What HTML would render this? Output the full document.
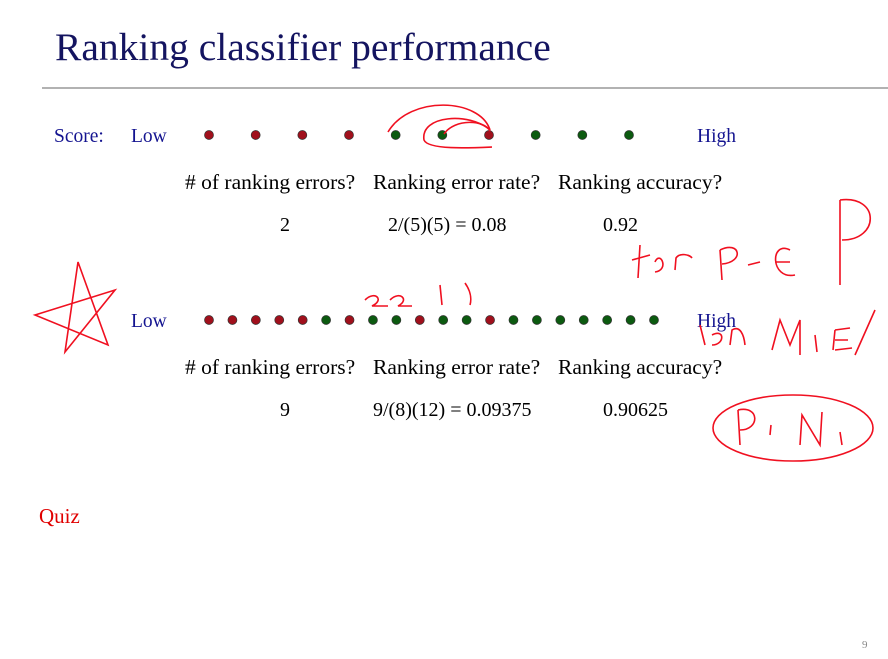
<!DOCTYPE html>
<html><head><meta charset="utf-8"><style>
body{margin:0;background:#fff;}
svg{display:block;}
text{font-family:"Liberation Serif",serif;}
</style></head><body>
<svg id="slide" width="888" height="659" viewBox="0 0 888 659" xmlns="http://www.w3.org/2000/svg">
<rect width="888" height="659" fill="#fff"/>
<text x="55" y="60" font-size="39.5" fill="#141460">Ranking classifier performance</text>
<line x1="42" y1="88" x2="888" y2="88" stroke="#999" stroke-width="1.5"/>
<text x="54" y="142" font-size="19.5" fill="#141490">Score:</text>
<text x="131" y="142" font-size="19.5" fill="#141490">Low</text>
<text x="697" y="142" font-size="19.5" fill="#141490">High</text>
<g font-size="21.5">
<text x="185" y="189"># of ranking errors?</text>
<text x="373" y="189">Ranking error rate?</text>
<text x="558" y="189">Ranking accuracy?</text>
</g>
<text x="280" y="231" font-size="20">2</text>
<text x="388" y="231" font-size="20">2/(5)(5) = 0.08</text>
<text x="603" y="231" font-size="20">0.92</text>
<text x="131" y="327" font-size="19.5" fill="#141490">Low</text>
<text x="697" y="327" font-size="19.5" fill="#141490">High</text>
<g font-size="21.5">
<text x="185" y="374"># of ranking errors?</text>
<text x="373" y="374">Ranking error rate?</text>
<text x="558" y="374">Ranking accuracy?</text>
</g>
<text x="280" y="416" font-size="20">9</text>
<text x="373" y="416" font-size="20">9/(8)(12) = 0.09375</text>
<text x="603" y="416" font-size="20">0.90625</text>
<text x="39" y="523" font-size="21" fill="#e00000">Quiz</text>
<text x="862" y="648" font-size="11" fill="#888">9</text>
<g id="dots"></g>
<g fill="none" stroke="#f01020" stroke-width="1.6">
<path d="M388,132 C410,95 480,98 490,130"/>
<path d="M490,130 C470,112 420,115 424,140 C428,150 470,148 492,147"/>
<path d="M444,134 C455,118 485,120 490,131"/>
<path d="M35,315 L115,290 L65,352 L78,262 L108,345 Z"/>
<ellipse cx="793" cy="428" rx="80" ry="33"/>
<path d="M640,245 L638,278 M632,260 L650,255 M655,262 C660,250 670,270 655,272 M675,270 L676,258 C680,252 690,255 692,258 M720,250 L722,280 M720,250 C740,240 745,262 722,264 M748,265 L760,262 M790,250 C770,240 770,280 795,275 M775,262 L790,262 M840,200 L840,285 M840,200 C880,195 880,240 842,240"/>
<path d="M772,350 L780,320 L790,345 L800,320 L800,355 M815,335 L817,352 M835,330 L833,350 M835,330 L850,328 M835,340 L848,340 M835,350 L852,348 M855,355 L875,310 M700,325 L705,345 M712,335 C725,328 725,345 712,345 M730,345 L732,330 C740,325 744,335 745,345"/>
<path d="M738,410 L740,445 M738,410 C760,405 760,430 740,430 M770,435 L771,425 M800,445 L802,415 L820,445 L822,412 M840,432 L842,445"/>
<path d="M365,300 C375,290 385,300 372,306 L388,306 M390,300 C400,290 410,300 398,306 L412,306 M440,285 L442,305 M465,283 C470,290 472,298 470,305"/>
</g>
</svg>
<script>
// Row 1: class of each ranked example (low -> high score), 'n' = negative (red), 'p' = positive (green)
const row1Labels = ['n','n','n','n','p','p','n','p','p','p'];
// Row 2
const row2Labels = ['n','n','n','n','n','p','n','p','p','n','p','p','n','p','p','p','p','p','p','p'];
const NS='http://www.w3.org/2000/svg';
const g=document.getElementById('dots');
const xStart=209, xEnd=654;
function xScale(i,n){return xStart+i*(xEnd-xStart)/(n-1);}
function xScale1(i,n){return xStart+i*(629-xStart)/(n-1);}
function drawRow(labels,y,scale,row){
  labels.forEach((c,i)=>{
    const el=document.createElementNS(NS,'circle');
    el.setAttribute('cx',scale(i,labels.length));
    el.setAttribute('cy',y);
    el.setAttribute('r',4.5);
    el.setAttribute('fill',c==='n'?'#a0101c':'#0c5a10');
    el.setAttribute('stroke','#333');
    el.setAttribute('stroke-width','0.7');
    
    
    g.appendChild(el);
  });
}
drawRow(row1Labels,135,xScale1,1);
drawRow(row2Labels,320,xScale,2);
</script>
</body></html>
